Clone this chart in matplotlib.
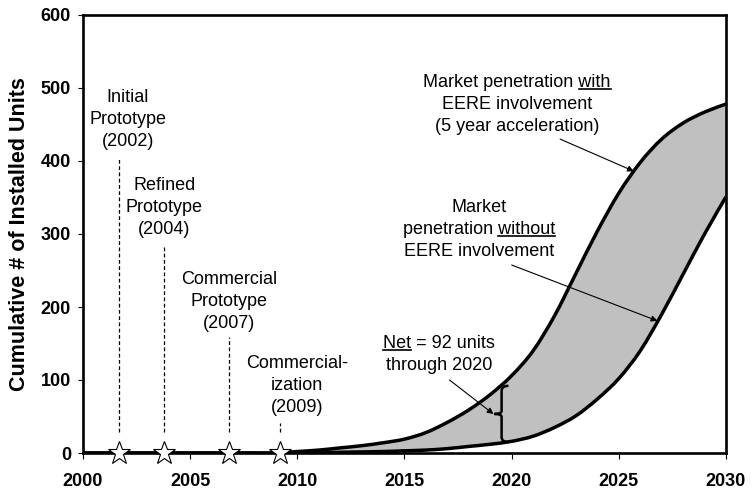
import matplotlib
matplotlib.use("Agg")
import matplotlib.pyplot as plt
from matplotlib import transforms
from matplotlib.lines import Line2D
from matplotlib.path import Path
from matplotlib.patches import PathPatch

plt.rcParams['font.family'] = ['Liberation Sans', 'DejaVu Sans']

# data
years = [2000, 2001, 2002, 2003, 2004, 2005, 2006, 2007, 2008, 2009,
         2010, 2011, 2012, 2013, 2014, 2015, 2016, 2017, 2018, 2019,
         2020, 2021, 2022, 2023, 2024, 2025, 2026, 2027, 2028, 2029, 2030]
with_eere = [0, 0, 0, 0, 0, 0, 0, 0, 0, 0,
             2, 4, 7, 10, 14, 19, 28, 42, 59, 80,
             106, 140, 188, 246, 304, 356, 398, 430, 452, 467, 478]
without_eere = [0, 0, 0, 0, 0, 0, 0, 0, 0, 0,
                0, 0.5, 1, 1.5, 2, 3, 4, 6, 9, 12,
                16, 23, 35, 51, 74, 102, 140, 190, 245, 300, 351]

milestone_x = [2001.7, 2003.8, 2006.8, 2009.2]
milestone_top = [405, 285, 159, 41]
milestone_labels = [["Initial", "Prototype", "(2002)"],
                    ["Refined", "Prototype", "(2004)"],
                    ["Commercial", "Prototype", "(2007)"],
                    ["Commercial-", "ization", "(2009)"]]
label_x = [2002.1, 2003.8, 2006.8, 2010.0]
label_y = [481, 360, 231.5, 116]

x_ticks = [2000, 2005, 2010, 2015, 2020, 2025, 2030]
y_ticks = [0, 100, 200, 300, 400, 500, 600]

FS = 13
LEAD = 22

fig = plt.figure(figsize=(7.52, 4.91), dpi=100)
ax = fig.add_axes([83/752, 1-453/491, (726-83)/752, (453-15)/491])


def smooth_segments(xs, ys):
    # cubic bezier pieces through the points (like a spreadsheet "smoothed line")
    pts = list(zip(xs, ys))
    out = []
    n = len(pts)
    for i in range(n - 1):
        p0 = pts[max(i - 1, 0)]
        p1 = pts[i]
        p2 = pts[i + 1]
        p3 = pts[min(i + 2, n - 1)]
        c1 = (p1[0] + (p2[0] - p0[0]) / 6, p1[1] + (p2[1] - p0[1]) / 6)
        c2 = (p2[0] - (p3[0] - p1[0]) / 6, p2[1] - (p3[1] - p1[1]) / 6)
        out += [c1, c2, p2]
    return pts[0], out


def curve_path(xs, ys):
    start, segs = smooth_segments(xs, ys)
    return Path([start] + segs, [Path.MOVETO] + [Path.CURVE4] * len(segs))


# shaded band between the two curves
s_up, seg_up = smooth_segments(years, with_eere)
s_lo, seg_lo = smooth_segments(years[::-1], without_eere[::-1])
band_v = [s_up] + seg_up + [s_lo] + seg_lo + [s_up]
band_c = ([Path.MOVETO] + [Path.CURVE4] * len(seg_up) + [Path.LINETO]
          + [Path.CURVE4] * len(seg_lo) + [Path.CLOSEPOLY])
ax.add_patch(PathPatch(Path(band_v, band_c), facecolor='#C0C0C0', lw=0, zorder=1))

for series in (with_eere, without_eere):
    ax.add_patch(PathPatch(curve_path(years, series), fill=False, lw=2.5,
                           edgecolor='black', capstyle='butt', zorder=3))

ax.set_xlim(2000, 2030)
ax.set_ylim(0, 600)
ax.set_xticks(x_ticks)
ax.set_yticks(y_ticks)
for s in ax.spines.values():
    s.set_linewidth(1.9)
ax.tick_params(axis='x', direction='out', length=4.5, width=0.8, pad=10,
               labelsize=FS)
ax.tick_params(axis='y', direction='out', length=3.6, width=0.8, pad=5,
               labelsize=FS)
for lab in ax.get_xticklabels() + ax.get_yticklabels():
    lab.set_fontweight('bold')
ax.set_ylabel('Cumulative # of Installed Units', fontsize=15.5,
              fontweight='bold', labelpad=8)

# milestone markers
for mx, top in zip(milestone_x, milestone_top):
    ax.plot([mx, mx], [29, top], color='black', lw=0.9, ls=(0, (3, 2)), zorder=2)
ax.plot(milestone_x, [0] * len(milestone_x), ls='none', marker='*', ms=17,
        mfc='white', mec='black', mew=0.8, clip_on=False, zorder=6)

renderer = fig.canvas.get_renderer()


def text_block(x, y, lines, underline=None):
    for i, s in enumerate(lines):
        tr = transforms.offset_copy(ax.transData, fig=fig, y=-i * LEAD, units='dots')
        t = ax.text(x, y, s, transform=tr, ha='center', va='baseline', fontsize=FS)
        if underline and underline[0] == i:
            bb = t.get_window_extent(renderer)
            w, h, d = renderer.get_text_width_height_descent(
                underline[1], t.get_fontproperties(), ismath=False)
            if underline[2] == 'end':
                x0, x1 = bb.x1 - w, bb.x1
            else:
                x0, x1 = bb.x0, bb.x0 + w
            yb = tr.transform((x, y))[1] - 2
            fig.add_artist(Line2D([x0, x1], [yb, yb], lw=1.2, color='black',
                                  transform=transforms.IdentityTransform()))


for xs, ys, lines in zip(label_x, label_y, milestone_labels):
    text_block(xs, ys, lines)

text_block(2020.25, 502, ["Market penetration with", "EERE involvement",
                          "(5 year acceleration)"], underline=(0, "with", 'end'))
text_block(2018.48, 330.6, ["Market", "penetration without", "EERE involvement"],
           underline=(1, "without", 'end'))
text_block(2016.61, 143.4, ["Net = 92 units", "through 2020"],
           underline=(0, "Net", 'start'))

arrow = dict(arrowstyle='-|>', lw=0.8, color='black', mutation_scale=9,
             shrinkA=0, shrinkB=0)
ax.annotate('', xy=(2025.7, 386), xytext=(2022.26, 430), arrowprops=arrow)
ax.annotate('', xy=(2026.8, 181), xytext=(2020.0, 257.5), arrowprops=arrow)
ax.annotate('', xy=(2019.15, 53.4), xytext=(2017.1, 100), arrowprops=arrow)

# brace marking the gap at 2020
bx, tipx, endx = 2019.53, 2019.2, 2019.85
top, bot, mid = 92, 15, 53.5
verts = [(endx, top), (bx, top), (bx, top - 7),
         (bx, mid + 4),
         (bx, mid), (tipx, mid),
         (bx, mid), (bx, mid - 4),
         (bx, bot + 7),
         (bx, bot), (endx, bot)]
codes = [Path.MOVETO, Path.CURVE3, Path.CURVE3,
         Path.LINETO,
         Path.CURVE3, Path.CURVE3,
         Path.CURVE3, Path.CURVE3,
         Path.LINETO,
         Path.CURVE3, Path.CURVE3]
ax.add_patch(PathPatch(Path(verts, codes), fill=False, lw=1.8, color='black', zorder=4))

fig.savefig('out.png', dpi=100)
